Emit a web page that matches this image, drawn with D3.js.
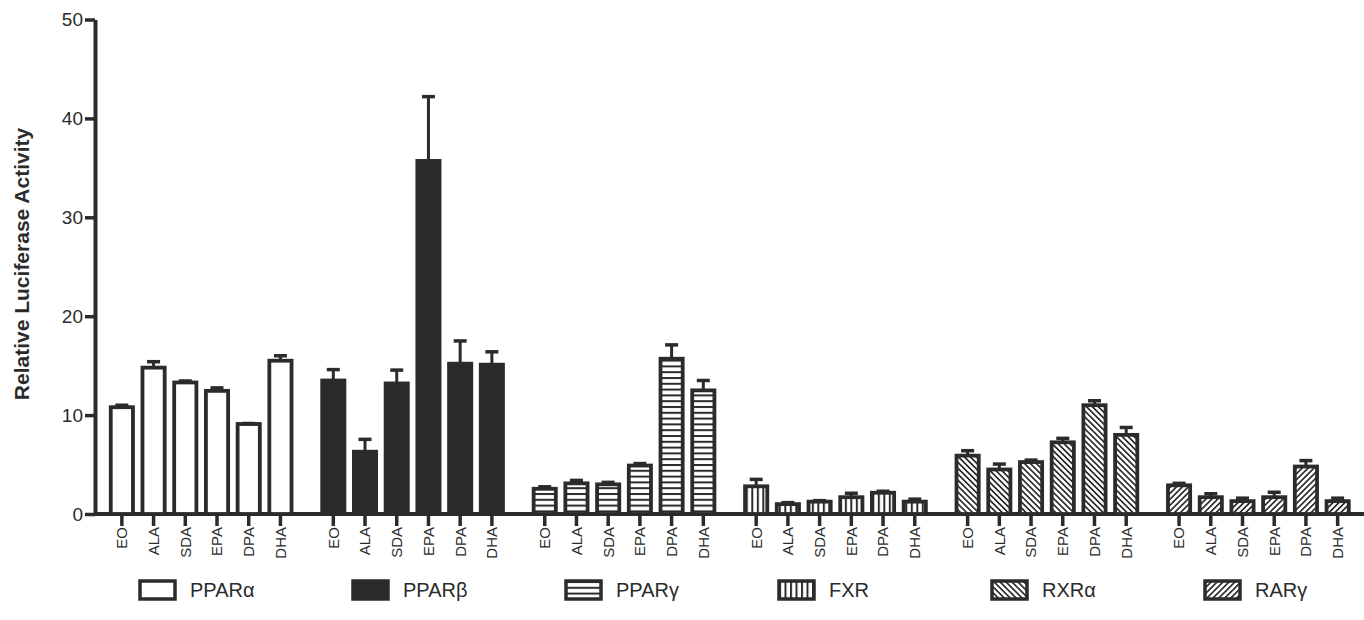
<!DOCTYPE html>
<html>
<head>
<meta charset="utf-8">
<script src="https://cdn.jsdelivr.net/npm/d3@7"></script>
<style>
body{margin:0;background:#fff;}
text{font-family:"Liberation Sans",Arial,sans-serif;fill:#2b2b2b;}
</style>
</head>
<body>
<svg id="chart" width="1364" height="620"></svg>
<script>
var receptors = ["PPARα","PPARβ","PPARγ","FXR","RXRα","RARγ"];
var acids = ["EO","ALA","SDA","EPA","DPA","DHA"];
var yTicks = [0,10,20,30,40,50];

// mean and error (SEM) for each receptor, in acids order
var pparaMean = [10.8,14.8,13.3,12.45,9.1,15.5];
var pparaErr  = [0.2,0.6,0.15,0.3,0.05,0.5];
var pparbMean = [13.5,6.3,13.2,35.7,15.2,15.1];
var pparbErr  = [1.1,1.25,1.35,6.5,2.3,1.3];
var ppargMean = [2.55,3.1,3.0,4.9,15.7,12.5];
var ppargErr  = [0.2,0.3,0.2,0.2,1.4,1.0];
var fxrMean   = [2.8,1.0,1.25,1.7,2.15,1.25];
var fxrErr    = [0.7,0.15,0.1,0.4,0.15,0.25];
var rxraMean  = [5.9,4.5,5.25,7.25,11.0,8.0];
var rxraErr   = [0.5,0.55,0.2,0.4,0.45,0.75];
var rargMean  = [2.9,1.7,1.3,1.7,4.8,1.3];
var rargErr   = [0.2,0.35,0.3,0.5,0.6,0.3];

var means = [pparaMean,pparbMean,ppargMean,fxrMean,rxraMean,rargMean];
var errs  = [pparaErr,pparbErr,ppargErr,fxrErr,rxraErr,rargErr];
var fills = ["#fff","#2b2b2b","url(#hlines)","url(#vlines)","url(#bslash)","url(#fslash)"];

var INK="#2b2b2b";
var SVG=d3.select("#chart");

// patterns
var defs=SVG.append("defs");
var p=defs.append("pattern").attr("id","hlines").attr("patternUnits","userSpaceOnUse")
  .attr("width",6).attr("height",5.8);
p.append("rect").attr("width",6).attr("height",5.8).attr("fill","#fff");
p.append("rect").attr("y",0).attr("width",6).attr("height",2).attr("fill",INK);

p=defs.append("pattern").attr("id","vlines").attr("patternUnits","userSpaceOnUse")
  .attr("width",5.5).attr("height",6);
p.append("rect").attr("width",5.5).attr("height",6).attr("fill","#fff");
p.append("rect").attr("x",0).attr("width",2).attr("height",6).attr("fill",INK);

[["bslash",-45],["fslash",45]].forEach(function(d){
  var q=defs.append("pattern").attr("id",d[0]).attr("patternUnits","userSpaceOnUse")
    .attr("width",4.2).attr("height",4.2).attr("patternTransform","rotate("+d[1]+")");
  q.append("rect").attr("width",4.2).attr("height",4.2).attr("fill","#fff");
  q.append("rect").attr("x",0).attr("width",1.7).attr("height",4.2).attr("fill",INK);
});

// scales
var y=d3.scaleLinear().domain([0,50]).range([514,19.5]);
var xGroup=d3.scaleBand().domain(receptors).range([106,1353.5]).paddingInner(0.1).paddingOuter(0);
var xInner=d3.scaleBand().domain(acids).range([0,xGroup.bandwidth()]).paddingInner(0.3).paddingOuter(0.15);

// x axis baseline
SVG.append("line").attr("x1",95).attr("x2",1364).attr("y1",y(0)).attr("y2",y(0))
  .attr("stroke",INK).attr("stroke-width",4);

// bars + error bars
receptors.forEach(function(r,gi){
  var g=SVG.append("g").attr("transform","translate("+xGroup(r)+",0)");
  var data=acids.map(function(a,i){return {acid:a,mean:means[gi][i],err:errs[gi][i]};});
  g.selectAll("rect.bar").data(data).enter().append("rect").attr("class","bar")
    .attr("x",function(d){return xInner(d.acid);})
    .attr("width",xInner.bandwidth())
    .attr("y",function(d){return y(d.mean);})
    .attr("height",function(d){return y(0)-y(d.mean);})
    .attr("fill",fills[gi]).attr("stroke",INK).attr("stroke-width",3.8);
  var eb=g.selectAll("g.err").data(data).enter().append("g").attr("class","err")
    .attr("transform",function(d){return "translate("+(xInner(d.acid)+xInner.bandwidth()/2)+",0)";});
  eb.append("line").attr("y1",function(d){return y(d.mean);}).attr("y2",function(d){return y(d.mean+d.err);})
    .attr("stroke",INK).attr("stroke-width",3);
  eb.append("line").attr("x1",-6.5).attr("x2",6.5)
    .attr("y1",function(d){return y(d.mean+d.err);}).attr("y2",function(d){return y(d.mean+d.err);})
    .attr("stroke",INK).attr("stroke-width",3.5);

  // category ticks and labels
  var ax=g.append("g").attr("transform","translate(0,"+y(0)+")")
    .call(d3.axisBottom(xInner).tickSize(12).tickSizeOuter(0));
  ax.select(".domain").remove();
  ax.selectAll(".tick line").attr("stroke",INK).attr("stroke-width",3.5);
  ax.selectAll(".tick text").attr("transform","rotate(-90)")
    .attr("x",-13).attr("y",0).attr("dy","0.36em")
    .style("text-anchor","end").style("font-size","15px").attr("fill",INK);
});

// y axis
var yax=SVG.append("g").attr("transform","translate(95,0)")
  .call(d3.axisLeft(y).tickValues(yTicks).tickSize(10).tickSizeOuter(0).tickPadding(2));
yax.select(".domain").attr("stroke",INK).attr("stroke-width",4);
yax.selectAll(".tick line").attr("stroke",INK).attr("stroke-width",3.5);
yax.selectAll(".tick text").style("font-size","19px").attr("fill",INK);

SVG.append("text").attr("transform","translate(29,264) rotate(-90)")
  .attr("text-anchor","middle").style("font-size","21px").style("font-weight","bold")
  .text("Relative Luciferase Activity");

// legend
var legendX=d3.scaleLinear().domain([0,5]).range([140,1205]);
var lg=SVG.selectAll("g.legend").data(receptors).enter().append("g").attr("class","legend")
  .attr("transform",function(d,i){return "translate("+legendX(i)+",581)";});
lg.append("rect").attr("width",35).attr("height",18)
  .attr("fill",function(d,i){return fills[i];}).attr("stroke",INK).attr("stroke-width",3.5);
lg.append("text").attr("x",50).attr("y",9).attr("dy","0.36em")
  .style("font-size","20px").text(function(d){return d;});
</script>
</body>
</html>
